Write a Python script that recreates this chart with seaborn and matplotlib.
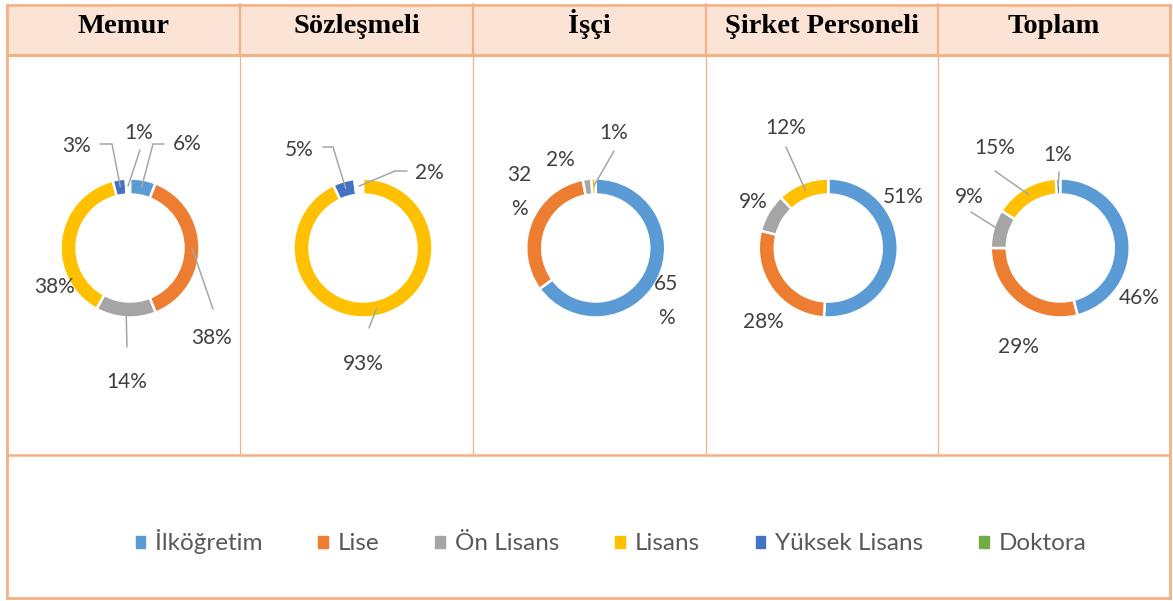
import numpy as np
import matplotlib
matplotlib.use("Agg")
import matplotlib.pyplot as plt
import matplotlib.patches as mpatches
import seaborn as sns

# data (percentages per staff group)
groups = ['Memur', 'Sözleşmeli', 'İşçi', 'Şirket Personeli', 'Toplam']
levels = ['İlköğretim', 'Lise', 'Ön Lisans', 'Lisans', 'Yüksek Lisans', 'Doktora']
memur = [6, 38, 14, 38, 3, 1]
sozlesmeli = [0, 0, 0, 93, 5, 2]
isci = [65, 32, 2, 1, 0, 0]
sirket = [51, 28, 9, 12, 0, 0]
toplam = [46, 29, 9, 15, 1, 0]
values = [memur, sozlesmeli, isci, sirket, toplam]

# label placement in pixels: level index -> (x, y, leader knees, wrap)
label_layout = [
    {0: (187, 144, [(153, 144), (164, 144)], False),
     1: (212, 338, [(213, 309)], False),
     2: (127, 382, [(127, 347)], False),
     3: (55, 287, [], False),
     4: (77, 146, [(112, 144), (100, 144)], False),
     5: (139, 133, [(140, 150)], False)},
    {3: (363, 364, [(369, 328)], False),
     4: (299, 150, [(333, 147), (323, 147)], False),
     5: (429, 173, [(395, 171), (407, 171)], False)},
    {0: (666, 301, [], True),
     1: (519, 192, [], True),
     2: (560, 160, [], False),
     3: (614, 133, [(614, 151)], False)},
    {0: (903, 197, [], False),
     1: (763, 322, [], False),
     2: (753, 202, [], False),
     3: (786, 128, [(786, 147)], False)},
    {0: (1139, 298, [], False),
     1: (1018, 347, [], False),
     2: (969, 197, [(971, 212)], False),
     3: (995, 148, [(995, 171)], False),
     4: (1058, 155, [(1059, 172)], False)},
]

W, H = 1173, 601
col_edges = [7, 240, 473, 705.5, 938, 1169.5]
header_bottom = 55
body_bottom = 454.5
donut_cy = 248
donut_dx = 6.5   # donuts sit a bit right of the cell centre
line_col = '#F4B183'
head_fill = '#FBE4D5'

sns.set_theme(style='white')
plt.rcParams['font.family'] = ['Lato', 'DejaVu Sans']
palette = sns.color_palette(['#5B9BD5', '#ED7D31', '#A5A5A5', '#FFC000', '#4472C4', '#70AD47'])

fig = plt.figure(figsize=(W / 100, H / 100), dpi=100)
ax = fig.add_axes([0, 0, 1, 1])


def Y(y):
    return H - y


# table frame
ax.add_patch(mpatches.Rectangle((col_edges[0], Y(header_bottom)), col_edges[-1] - col_edges[0],
                                header_bottom - 4, facecolor=head_fill, edgecolor='none', zorder=1))
for x in col_edges[1:-1]:
    ax.plot([x, x], [Y(4), Y(header_bottom)], color=line_col, lw=1.6, zorder=2)
    ax.plot([x, x], [Y(header_bottom), Y(body_bottom)], color=line_col, lw=0.9, zorder=2)
for y, lw in [(4.5, 1.8), (header_bottom, 2.2), (body_bottom, 1.8), (597.5, 2.0)]:
    ax.plot([col_edges[0], col_edges[-1]], [Y(y), Y(y)], color=line_col, lw=lw, zorder=2,
            solid_capstyle='projecting')
for x in [col_edges[0], col_edges[-1]]:
    ax.plot([x, x], [Y(4.5), Y(597.5)], color=line_col, lw=2.0, zorder=2, solid_capstyle='projecting')

for i, (name, vals) in enumerate(zip(groups, values)):
    mid = (col_edges[i] + col_edges[i + 1]) / 2
    cx = mid + donut_dx
    ax.text(mid, Y(33), name, ha='center', va='baseline', fontsize=20.5, fontweight='bold',
            family=['Liberation Serif', 'DejaVu Serif'], color='black', zorder=3)

    keep = [k for k, v in enumerate(vals) if v > 0]
    wedges, _ = ax.pie([vals[k] for k in keep], colors=[palette[k] for k in keep], startangle=90,
                       counterclock=False, radius=69.5, center=(cx, Y(donut_cy)), frame=True,
                       wedgeprops=dict(width=16, edgecolor='white', linewidth=1.8))
    # the doktora slices show up blank in the original
    for w, k in zip(wedges, keep):
        if levels[k] == 'Doktora':
            w.set_facecolor('white')

    total = float(sum(vals))
    cum = np.cumsum([0] + vals)
    for k, (lx, ly, knees, wrap) in label_layout[i].items():
        theta = np.deg2rad(360 * (cum[k] + vals[k] / 2) / total)
        px = cx + 62 * np.sin(theta)
        py = donut_cy - 62 * np.cos(theta)
        if knees:
            pts = [(px, py)] + knees
            ax.plot([p[0] for p in pts], [Y(p[1]) for p in pts], color='#A6A6A6', lw=1.1, zorder=4)
        txt = f"{vals[k]}\n%" if wrap else f"{vals[k]}%"
        ax.text(lx, Y(ly), txt, ha='center', va='center', fontsize=15, color='#404040',
                linespacing=1.85, zorder=5)

ax.set_xlim(0, W)
ax.set_ylim(0, H)
ax.set_aspect('auto')
ax.axis('off')

handles = [mpatches.Patch(color=palette[k], label=lev) for k, lev in enumerate(levels)]
fig.legend(handles=handles, loc='center', bbox_to_anchor=(611 / W, 1 - 542 / H), ncol=6,
           frameon=False, fontsize=17.5, labelcolor='#595959', handlelength=0.4, handleheight=0.4,
           handletextpad=0.4, columnspacing=2.3, borderpad=0)

fig.savefig('out.png', dpi=100, facecolor='white')
